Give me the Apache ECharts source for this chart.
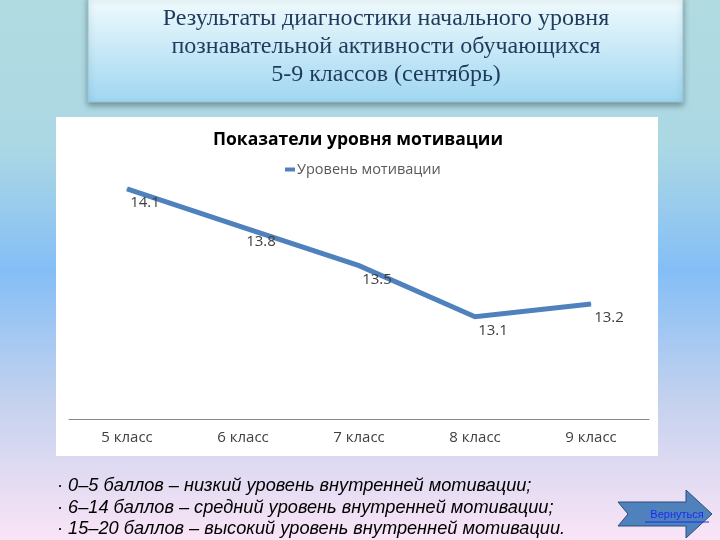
<!DOCTYPE html>
<html><head><meta charset="utf-8">
<script src="https://cdn.jsdelivr.net/npm/echarts@6/dist/echarts.min.js"></script>
<style>html,body{margin:0;padding:0;}#c{width:720px;height:540px;}</style>
</head><body><div id="c"></div>
<script>
const categories = ['5 класс', '6 класс', '7 класс', '8 класс', '9 класс'];
const motivation = [14.1, 13.8, 13.5, 13.1, 13.2];
const seriesName = 'Уровень мотивации';
const chartTitle = 'Показатели уровня мотивации';
const slideTitle = ['Результаты диагностики начального уровня', 'познавательной активности обучающихся', '5-9 классов (сентябрь)'];
const notes = ['· 0–5 баллов – низкий уровень внутренней мотивации;', '· 6–14 баллов – средний уровень внутренней мотивации;', '· 15–20 баллов – высокий уровень внутренней мотивации.'];
const buttonText = 'Вернуться';

const chart = echarts.init(document.getElementById('c'), null, {renderer: 'canvas'});
const G = echarts.graphic;
const option = {
  animation: false,
  backgroundColor: new G.LinearGradient(0, 0, 0, 1, [
    {offset: 0, color: '#b1dbe1'},
    {offset: 0.27, color: '#acd8e4'},
    {offset: 0.5, color: '#84bef6'},
    {offset: 0.75, color: '#c6d2ee'},
    {offset: 1, color: '#fae4f6'}
  ]),
  title: {
    text: chartTitle, left: 353, top: 126, textAlign: 'center',
    textStyle: {fontFamily: 'Open Sans', fontWeight: 'bold', fontSize: 17.5, color: '#000'}
  },
  legend: {
    data: [seriesName], top: 157, left: 280,
    icon: 'rect', itemWidth: 10, itemHeight: 4, itemGap: 2,
    textStyle: {fontFamily: 'Open Sans', fontSize: 14.5, color: '#595959', padding: [0,0,0,-3]}
  },
  grid: {left: 69, right: 71, top: 163.4, bottom: 121},
  xAxis: {
    type: 'category', data: categories, boundaryGap: true,
    axisLine: {lineStyle: {color: '#868686', width: 1}},
    axisTick: {show: false},
    axisLabel: {fontFamily: 'Open Sans', fontSize: 15, color: '#404040', margin: 11}
  },
  yAxis: {type: 'value', min: 12.3, max: 14.3, show: false, splitLine: {show: false}},
  graphic: [
    {type: 'rect', z: -10, shape: {x: 56, y: 117, width: 602, height: 339}, style: {fill: '#ffffff'}},
    {type: 'rect', z: -5, shape: {x: 88, y: -4, width: 595, height: 106},
      style: {fill: new G.LinearGradient(0, 0, 0, 1, [{offset: 0, color: '#f2fcfd'}, {offset: 1, color: '#9fd6f1'}]),
        stroke: '#8fc6d6', lineWidth: 1, shadowBlur: 6, shadowOffsetY: 3, shadowColor: 'rgba(0,0,0,0.35)'}},
    ...slideTitle.map((t, i) => ({type: 'text', z: 5, style: {text: t, x: 386, y: 19 + i * 28, textAlign: 'center', textVerticalAlign: 'middle',
      font: '24px "Liberation Serif", serif', fill: '#1f3a5c'}})),
    ...notes.map((t, i) => ({type: 'text', z: 5, style: {text: t, x: 57, y: 486 + i * 21.5, textVerticalAlign: 'middle',
      font: 'italic 18.2px "Liberation Sans", Arial, sans-serif', fill: '#000'}})),
    {type: 'polygon', z: 5, shape: {points: [[618, 502], [686, 502], [686, 490], [712, 514], [686, 538], [686, 526], [618, 526], [628, 514]]},
      style: {fill: '#4f81bd', stroke: '#2c4f7a', lineWidth: 1}},
    {type: 'text', z: 6, style: {text: buttonText, x: 677, y: 515, textAlign: 'center', textVerticalAlign: 'middle',
      font: '11px "Liberation Sans", Arial, sans-serif', fill: '#1a2cf0'}},
    {type: 'line', z: 6, shape: {x1: 645, y1: 522, x2: 709, y2: 522}, style: {stroke: '#1a2cf0', lineWidth: 1}}
  ],
  series: [{
    name: seriesName, type: 'line', data: motivation,
    symbol: 'circle', symbolSize: 1, showSymbol: true,
    lineStyle: {color: '#4f81bd', width: 5, join: 'miter'},
    itemStyle: {color: '#4f81bd'},
    label: {show: true, position: 'bottom', distance: 4, offset: [18, 2],
      fontFamily: 'Open Sans', fontSize: 15, color: '#404040'}
  }]
};
chart.setOption(option);
</script></body></html>
